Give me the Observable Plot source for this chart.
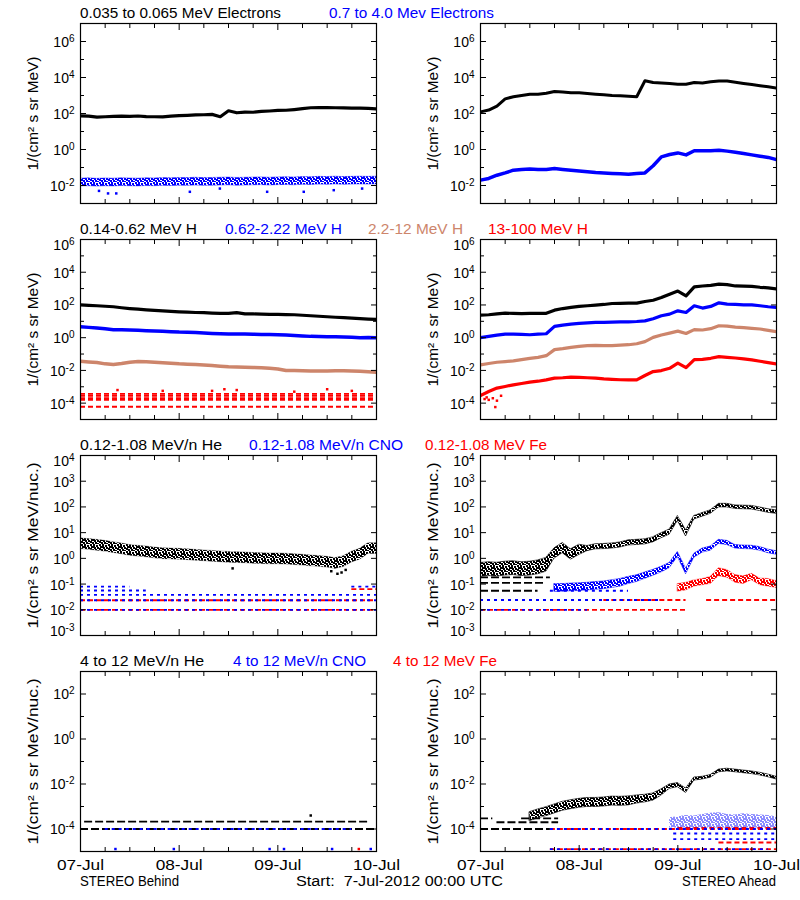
<!DOCTYPE html>
<html>
<head>
<meta charset="utf-8">
<script src="https://cdn.jsdelivr.net/npm/d3@7"></script>
<script src="https://cdn.jsdelivr.net/npm/@observablehq/plot@0.6"></script>
<style>
  html, body { margin: 0; padding: 0; background: #fff; }
  #root { position: relative; width: 800px; height: 900px; overflow: hidden; background: #fff; }
  #root > svg { position: absolute; }
</style>
</head>
<body>
<div id="root"></div>
<script>
// ---------------- DATA (log10 of flux) ----------------
// sample times, hours after 2012-07-07 00:00 UTC
const hours = [0,2,4,6,8,10,12,14,16,18,20,22,24,26,28,30,32,34,36,38,40,42,44,46,48,50,52,54,56,58,60,62,64,66,68,70,72];

// Row 1: electrons
const behindElecLow = [1.87,1.85,1.80,1.82,1.84,1.85,1.84,1.86,1.83,1.82,1.81,1.85,1.88,1.90,1.92,1.93,1.95,1.82,2.15,2.04,2.08,2.07,2.12,2.14,2.17,2.18,2.22,2.27,2.32,2.33,2.33,2.32,2.31,2.30,2.30,2.28,2.25];
const behindElecHighLo = [-2.05,-2.04,-2.06,-2.04,-2.05,-2.03,-2.04,-2.05,-2.03,-2.04,-2.02,-2.03,-2.01,-2.02,-2.00,-2.02,-2.01,-2.00,-1.99,-2.01,-2.00,-1.99,-1.98,-2.00,-1.98,-1.97,-1.99,-1.96,-1.97,-1.95,-1.96,-1.94,-1.96,-1.95,-1.94,-1.95,-1.94];
const behindElecHighHi = [-1.62,-1.60,-1.63,-1.61,-1.62,-1.60,-1.61,-1.62,-1.60,-1.61,-1.59,-1.60,-1.58,-1.59,-1.57,-1.59,-1.58,-1.57,-1.56,-1.58,-1.57,-1.56,-1.55,-1.57,-1.55,-1.54,-1.56,-1.53,-1.54,-1.52,-1.53,-1.51,-1.53,-1.52,-1.51,-1.52,-1.51];
const behindElecHighOutliers = [[4.5,-2.30],[6.7,-2.44],[8.7,-2.44],[26.6,-2.35],[33.9,-2.17],[45.4,-2.35],[54.3,-2.35],[61.6,-2.26],[68.5,-2.17]];
const aheadElecLow = [2.09,2.19,2.41,2.81,2.93,3.00,3.07,3.07,3.12,3.22,3.19,3.15,3.15,3.11,3.07,3.04,3.00,2.98,2.96,2.93,3.82,3.72,3.69,3.67,3.63,3.63,3.72,3.70,3.76,3.81,3.80,3.74,3.67,3.61,3.54,3.48,3.41];
const aheadElecHigh = [-1.70,-1.61,-1.43,-1.30,-1.15,-1.11,-1.09,-1.11,-1.11,-1.06,-1.11,-1.15,-1.19,-1.24,-1.28,-1.30,-1.33,-1.35,-1.37,-1.33,-1.30,-0.90,-0.41,-0.28,-0.19,-0.30,-0.07,-0.07,-0.07,-0.04,-0.09,-0.15,-0.22,-0.30,-0.37,-0.44,-0.56];

// Row 2: protons
const behindP1 = [2.00,1.97,1.95,1.92,1.89,1.83,1.78,1.74,1.70,1.67,1.64,1.61,1.58,1.56,1.54,1.53,1.50,1.48,1.49,1.53,1.46,1.45,1.44,1.43,1.42,1.41,1.40,1.37,1.34,1.31,1.28,1.25,1.22,1.19,1.16,1.14,1.12];
const behindP2 = [0.67,0.63,0.59,0.54,0.49,0.48,0.47,0.45,0.43,0.41,0.39,0.37,0.34,0.33,0.32,0.29,0.26,0.24,0.22,0.22,0.22,0.21,0.20,0.19,0.18,0.16,0.14,0.11,0.08,0.07,0.06,0.05,0.04,0.02,0.00,0.01,0.00];
const behindP3 = [-1.44,-1.48,-1.52,-1.60,-1.64,-1.58,-1.50,-1.46,-1.47,-1.50,-1.53,-1.56,-1.60,-1.62,-1.64,-1.67,-1.70,-1.74,-1.78,-1.79,-1.80,-1.82,-1.84,-1.87,-1.91,-2.01,-2.01,-2.02,-2.03,-2.03,-2.03,-2.02,-2.02,-2.04,-2.05,-2.08,-2.11];
// quantized count levels: [series, log10 flux, start hour, end hour]
const behindP4Levels = [["r",-3.43,0,72],["r",-3.55,0,72],["r",-3.69,0,72],["r",-3.80,0,72],["r",-4.22,0,72]];
const behindP4Spikes = [[9,-3.20],[20,-3.25],[32,-3.25],[35,-3.15],[38,-3.20],[52,-3.30],[60,-3.15],[66,-3.25]];
const aheadP1 = [1.38,1.40,1.46,1.50,1.48,1.47,1.48,1.48,1.49,1.68,1.78,1.85,1.91,1.95,1.99,2.03,2.09,2.10,2.11,2.11,2.21,2.29,2.45,2.66,2.85,2.56,3.10,3.16,3.20,3.27,3.24,3.16,3.15,3.14,3.08,3.04,2.98];
const aheadP2 = [0.00,0.08,0.16,0.22,0.22,0.20,0.18,0.22,0.24,0.69,0.77,0.83,0.87,0.90,0.93,0.93,0.95,0.97,0.97,0.99,1.03,1.16,1.34,1.44,1.64,1.54,1.95,1.81,1.91,2.13,2.05,2.03,2.01,2.01,1.95,1.89,1.85];
const aheadP3 = [-1.66,-1.58,-1.50,-1.46,-1.42,-1.34,-1.26,-1.20,-1.10,-0.73,-0.67,-0.59,-0.53,-0.49,-0.47,-0.49,-0.49,-0.45,-0.43,-0.37,-0.24,0.02,0.16,0.28,0.40,0.26,0.49,0.47,0.55,0.73,0.71,0.65,0.61,0.57,0.53,0.45,0.37];
const aheadP4 = [-3.53,-3.29,-3.08,-2.98,-2.88,-2.80,-2.72,-2.66,-2.58,-2.47,-2.45,-2.41,-2.43,-2.45,-2.47,-2.52,-2.55,-2.57,-2.58,-2.58,-2.31,-2.07,-2.01,-1.87,-1.55,-1.83,-1.34,-1.33,-1.26,-1.16,-1.20,-1.24,-1.30,-1.36,-1.44,-1.52,-1.60];
const aheadP4Early = [[1,-3.75],[1.5,-3.65],[2,-3.80],[3,-3.70],[3.6,-4.24],[4,-3.85],[5,-3.55]];

// Row 3: 0.12-1.08 MeV/n ions
const behindHeLo = [0.36,0.33,0.30,0.26,0.21,0.16,0.10,0.07,0.04,0.00,-0.03,-0.04,-0.05,-0.07,-0.09,-0.11,-0.13,-0.15,-0.17,-0.18,-0.19,-0.21,-0.22,-0.23,-0.23,-0.24,-0.26,-0.28,-0.31,-0.33,-0.36,-0.41,-0.34,-0.16,-0.05,0.17,0.17];
const behindHeHi = [0.78,0.75,0.72,0.68,0.63,0.58,0.52,0.49,0.46,0.42,0.39,0.38,0.37,0.35,0.33,0.31,0.29,0.27,0.25,0.24,0.23,0.21,0.20,0.19,0.19,0.18,0.16,0.14,0.11,0.09,0.06,0.01,0.08,0.26,0.37,0.59,0.59];
const behindHeOutliers = [[37,-0.39],[61,-0.50],[62.5,-0.60],[63.5,-0.55],[64.5,-0.45]];
const behindIonLevels = [["r",-2.00,0,72],["b",-2.00,0,72],["r",-1.63,0,72],["b",-1.63,0,72],["b",-1.42,0,72],["b",-1.25,0,16],["b",-1.10,0,12],["r",-1.20,66,72],["b",-1.10,66,72]];
const aheadHeLo = [-0.72,-0.69,-0.71,-0.67,-0.65,-0.69,-0.67,-0.62,-0.52,-0.01,0.20,-0.05,0.13,0.28,0.35,0.36,0.38,0.42,0.50,0.52,0.54,0.62,0.78,0.92,1.45,0.85,1.51,1.62,1.73,1.98,1.98,1.92,1.91,1.90,1.84,1.77,1.73];
const aheadHeHi = [-0.18,-0.15,-0.17,-0.13,-0.11,-0.15,-0.13,-0.08,0.02,0.39,0.60,0.35,0.53,0.48,0.55,0.56,0.58,0.62,0.70,0.72,0.74,0.82,0.98,1.12,1.65,1.09,1.65,1.76,1.87,2.12,2.12,2.06,2.05,2.04,1.98,1.91,1.87];
const aheadCNOLo = [null,null,null,null,null,null,null,null,null,-1.30,-1.30,-1.28,-1.27,-1.25,-1.22,-1.20,-1.15,-1.10,-1.00,-0.92,-0.80,-0.68,-0.55,-0.38,0.05,-0.62,0.02,0.22,0.30,0.56,0.52,0.38,0.36,0.35,0.30,0.20,0.14];
const aheadCNOHi = [null,null,null,null,null,null,null,null,null,-1.00,-1.00,-0.98,-0.97,-0.95,-0.92,-0.90,-0.85,-0.80,-0.72,-0.66,-0.55,-0.45,-0.33,-0.18,0.25,-0.40,0.18,0.38,0.46,0.72,0.68,0.52,0.50,0.49,0.44,0.34,0.28];
const aheadFeLo = [null,null,null,null,null,null,null,null,null,null,null,null,null,null,null,null,null,null,null,null,null,null,null,null,-1.30,-1.25,-1.10,-1.05,-1.00,-0.70,-0.75,-0.95,-1.00,-0.85,-1.05,-1.10,-1.15];
const aheadFeHi = [null,null,null,null,null,null,null,null,null,null,null,null,null,null,null,null,null,null,null,null,null,null,null,null,-1.00,-0.95,-0.85,-0.80,-0.72,-0.38,-0.45,-0.65,-0.70,-0.60,-0.78,-0.80,-0.88];
const aheadIonLevels = [["k",-0.74,0,17],["k",-0.95,0,16],["k",-1.26,0,14],["r",-2.00,0,50.5],["b",-2.00,0,26],["b",-1.62,0,44],["r",-1.62,30,50],["r",-1.62,55,72],["b",-1.26,17,36]];

// Row 4: 4-12 MeV/n ions
const behindHighIonLevels = [["k",-4.00,0,72],["k",-3.67,1,70],["b",-4.00,6,66]];
const behindHighHeDots = [[56,-3.40]];
const behindHighCNODots = [[8.5,-4.89],[22.7,-4.89],[46,-4.89],[49.5,-4.89],[61.2,-4.89],[70.6,-4.89]];
const behindHighFeDots = [[67.7,-4.89]];
const aheadHighHeLo = [null,null,null,null,null,null,-3.65,-3.53,-3.43,-3.31,-3.19,-3.12,-3.06,-3.02,-3.02,-3.00,-2.96,-2.97,-2.95,-2.87,-2.82,-2.74,-2.52,-2.22,-2.14,-2.40,-1.85,-1.80,-1.72,-1.48,-1.44,-1.48,-1.52,-1.56,-1.62,-1.70,-1.80];
const aheadHighHeHi = [null,null,null,null,null,null,-3.25,-3.13,-3.03,-2.91,-2.79,-2.72,-2.66,-2.62,-2.62,-2.60,-2.56,-2.57,-2.55,-2.51,-2.48,-2.42,-2.24,-2.02,-1.96,-2.20,-1.71,-1.68,-1.60,-1.36,-1.32,-1.36,-1.40,-1.44,-1.50,-1.58,-1.68];
const aheadHighCNOLo = [null,null,null,null,null,null,null,null,null,null,null,null,null,null,null,null,null,null,null,null,null,null,null,-3.95,-3.95,-3.95,-3.95,-3.95,-3.95,-3.95,-3.95,-3.95,-3.95,-3.95,-3.95,-3.95,-3.95];
const aheadHighCNOHi = [null,null,null,null,null,null,null,null,null,null,null,null,null,null,null,null,null,null,null,null,null,null,null,-3.50,-3.45,-3.40,-3.42,-3.35,-3.30,-3.28,-3.35,-3.38,-3.32,-3.35,-3.38,-3.40,-3.45];
const aheadHighIonLevels = [["k",-3.53,0,3],["k",-3.70,4,19],["k",-3.53,10,19],["k",-4.00,0,17],["r",-4.00,17,72],["b",-4.00,17,72],["r",-3.95,48,72],["b",-4.20,47,72],["b",-4.45,47,72],["r",-4.60,58,72],["r",-4.89,17,72],["b",-4.89,17,70]];

// axis ranges / tick labels (log10 exponents) and units
const rowExponents = [[-3, 7], [-5, 6], [-3, 4], [-5, 3]];
const rowTickLabels = [[-2, 0, 2, 4, 6], [-4, -2, 0, 2, 4, 6], [-3, -2, -1, 0, 1, 2, 3, 4], [-4, -2, 0, 2]];
const rowUnits = ["1/(cm² s sr MeV)", "1/(cm² s sr MeV)", "1/(cm² s sr MeV/nuc.)", "1/(cm² s sr MeV/nuc.)"];
const dayTickHours = [0, 24, 48, 72];
const minorTickHours = [6, 12, 18, 30, 36, 42, 54, 60, 66];
const rowTitles = [
  ["0.035 to 0.065 MeV Electrons", "0.7 to 4.0 Mev Electrons"],
  ["0.14-0.62 MeV H", "0.62-2.22 MeV H", "2.2-12 MeV H", "13-100 MeV H"],
  ["0.12-1.08 MeV/n He", "0.12-1.08 MeV/n CNO", "0.12-1.08 MeV Fe"],
  ["4 to 12 MeV/n He", "4 to 12 MeV/n CNO", "4 to 12 MeV Fe"]
];
const captions = ["STEREO Behind", "Start:  7-Jul-2012 00:00 UTC", "STEREO Ahead"];

// ---------------- STYLE / LAYOUT ----------------
const FONT = "'Liberation Sans', Arial, Helvetica, sans-serif";
const C = {k: "#000000", b: "#0000ff", s: "#cd856b", r: "#ff0000"};
const DASH = {k: "8,3", b: "3,4", r: "5,3", s: "6,2"};
const titleColors = [["k","b"],["k","b","s","r"],["k","b","r"],["k","b","r"]];
const titleX = [[80, 329], [80, 225, 368, 488], [80, 249, 425], [80, 233, 393]];
const titleW = [[201, 165], [117, 117, 95, 100], [142, 154, 122], [124, 133, 104]];
const unitW = [114, 114, 166, 166];
const captionX = [80, 296, 682], captionW = [99, 207, 94];
const ROW_TOP = [0, 216, 432, 648];
const MT = 23;

const T0 = Date.UTC(2012, 6, 7);
const toTime = h => new Date(T0 + h * 3600e3);
const flux = v => (v == null ? NaN : Math.pow(10, v));
const lineTable = vals => hours.map((h, i) => ({t: toTime(h), v: flux(vals[i])}));
const bandTable = (lo, hi) => hours.map((h, i) => ({t: toTime(h), lo: flux(lo[i]), hi: flux(hi[i])}));
const pointTable = pts => pts.map(([h, v]) => ({t: toTime(h), v: flux(v)}));

const root = document.getElementById("root");

// dotted fill patterns that imitate densely scattered data points
const defsSvg = d3.select(root).append("svg").attr("width", 0).attr("height", 0);
const defs = defsSvg.append("defs");
["k", "b", "r"].forEach(c => {
  const p = defs.append("pattern").attr("id", "dots-" + c)
    .attr("patternUnits", "userSpaceOnUse").attr("width", 9).attr("height", 7);
  [[0, 0], [3, 0], [6, 1], [1, 2], [4, 3], [7, 3], [2, 5], [5, 5], [0, 4], [8, 6], [6, 6], [3, 2]].forEach(([x, y]) =>
    p.append("rect").attr("x", x).attr("y", y).attr("width", 2).attr("height", 2).attr("fill", C[c]));
});

const lineMark = (vals, c, w = 3) => Plot.line(lineTable(vals), {x: "t", y: "v", stroke: C[c], strokeWidth: w, clip: true});
const bandMark = (lo, hi, c, op = 1, sop = 0.5) => Plot.areaY(bandTable(lo, hi), {x: "t", y1: "lo", y2: "hi",
  fill: `url(#dots-${c})`, fillOpacity: op, stroke: C[c], strokeOpacity: sop, strokeWidth: 1, clip: true});
const dotMark = (pts, c) => Plot.dot(pointTable(pts), {x: "t", y: "v", r: 1.4, symbol: "square", fill: C[c], stroke: null, clip: true});
const levelMarks = rows => ["r", "k", "b"].map(c => Plot.ruleY(
  rows.filter(d => d[0] === c).map(([, v, a, b]) => ({v: flux(v), t1: toTime(a), t2: toTime(b)})),
  {y: "v", x1: "t1", x2: "t2", stroke: C[c], strokeWidth: 1.8, strokeDasharray: DASH[c], clip: true}));

function panel(row, side, marks) {
  const [e0, e1] = rowExponents[row];
  const last = row === 3;
  const labelled = rowTickLabels[row];
  const major = labelled.map(e => Math.pow(10, e));
  const minor = d3.range(e0, e1 + 1).filter(e => !labelled.includes(e)).map(e => Math.pow(10, e));
  const days = dayTickHours.map(toTime);
  const quarter = minorTickHours.map(toTime);
  const noText = () => "";
  const common = {label: null, tickFormat: noText};
  const expFmt = d => "10^" + Math.round(Math.log10(d));
  const labelOpts = {anchor: "left", tickSize: 0, tickPadding: 6, label: null, fontSize: 14, tickFormat: expFmt};
  const inner = labelled.filter(e => e !== e0 && e !== e1).map(e => Math.pow(10, e));
  const topEdge = labelled.filter(e => e === e1).map(e => Math.pow(10, e));
  const botEdge = labelled.filter(e => e === e0).map(e => Math.pow(10, e));
  const axes = [
    Plot.axisY(major, {...common, anchor: "left", tickSize: 6, dx: 6}),
    Plot.axisY(minor, {...common, anchor: "left", tickSize: 4, dx: 4}),
    Plot.axisY(major, {...common, anchor: "right", tickSize: 6, dx: -6}),
    Plot.axisY(minor, {...common, anchor: "right", tickSize: 4, dx: -4}),
    Plot.axisX(days, {...common, anchor: "bottom", tickSize: 6, dy: -6}),
    Plot.axisX(quarter, {...common, anchor: "bottom", tickSize: 4, dy: -4}),
    Plot.axisX(days, {...common, anchor: "top", tickSize: 6, dy: 6}),
    Plot.axisX(quarter, {...common, anchor: "top", tickSize: 4, dy: 4}),
    Plot.axisY(inner, {...labelOpts, dy: 1}),
    Plot.axisY(topEdge, {...labelOpts, dy: 6}),
    Plot.axisY(botEdge, {...labelOpts, dy: -4}),
    Plot.text([rowUnits[row]], {text: d => d, frameAnchor: "left", dx: -47, rotate: -90,
      textAnchor: "middle", lineAnchor: "middle", fontSize: 14, fill: "black"})
  ];
  if (last) axes.push(Plot.axisX(days, {anchor: "bottom", tickSize: 0, tickPadding: 8, label: null, fontSize: 15,
    tickFormat: d3.utcFormat("%d-%b")}));
  const svg = Plot.plot({
    width: 400,
    height: last ? 252 : 216,
    marginLeft: 80, marginRight: 24, marginTop: MT, marginBottom: last ? 49 : 13,
    style: {background: "transparent", fontFamily: FONT, fontSize: "14px", color: "black", overflow: "visible"},
    x: {type: "utc", domain: [toTime(0), toTime(72)]},
    y: {type: "log", domain: [Math.pow(10, e0), Math.pow(10, e1)]},
    marks: [...marks, Plot.frame({stroke: "black", strokeWidth: 1.2}), ...axes]
  });
  svg.style.left = (side === 0 ? 0 : 400) + "px";
  svg.style.top = ROW_TOP[row] + "px";
  svg.style.position = "absolute";
  svg.querySelectorAll("text").forEach(t => {
    const s = t.textContent;
    const m = s.match(/^10\^(-?\d+)$/);
    if (m) { // superscript exponent
      t.textContent = "10";
      const ts = document.createElementNS("http://www.w3.org/2000/svg", "tspan");
      ts.setAttribute("dy", "-5");
      ts.setAttribute("font-size", "10px");
      ts.textContent = m[1];
      t.appendChild(ts);
    } else if (/^\d\d-[A-Z][a-z]{2}$/.test(s)) {
      t.setAttribute("textLength", 47);
      t.setAttribute("lengthAdjust", "spacingAndGlyphs");
    } else if (s === rowUnits[row]) {
      t.setAttribute("textLength", unitW[row]);
      t.setAttribute("lengthAdjust", "spacingAndGlyphs");
    }
  });
  root.appendChild(svg);
}

// Row 1
panel(0, 0, [
  bandMark(behindElecHighLo, behindElecHighHi, "b", 1, 0.4),
  dotMark(behindElecHighOutliers, "b"),
  lineMark(behindElecLow, "k", 3.2)
]);
panel(0, 1, [
  lineMark(aheadElecHigh, "b", 3.5),
  lineMark(aheadElecLow, "k", 3)
]);
// Row 2
panel(1, 0, [
  ...levelMarks(behindP4Levels),
  dotMark(behindP4Spikes, "r"),
  lineMark(behindP3, "s", 3.5),
  lineMark(behindP2, "b", 3.5),
  lineMark(behindP1, "k", 3.2)
]);
panel(1, 1, [
  dotMark(aheadP4Early, "r"),
  lineMark(aheadP4, "r", 3.2),
  lineMark(aheadP3, "s", 3.2),
  lineMark(aheadP2, "b", 3.2),
  lineMark(aheadP1, "k", 3.2)
]);
// Row 3
panel(2, 0, [
  ...levelMarks(behindIonLevels),
  bandMark(behindHeLo, behindHeHi, "k", 1, 0.25),
  dotMark(behindHeOutliers, "k")
]);
panel(2, 1, [
  ...levelMarks(aheadIonLevels),
  bandMark(aheadFeLo, aheadFeHi, "r", 1, 0.3),
  bandMark(aheadCNOLo, aheadCNOHi, "b", 1, 0.5),
  bandMark(aheadHeLo, aheadHeHi, "k", 1, 0.6)
]);
// Row 4
panel(3, 0, [
  ...levelMarks(behindHighIonLevels),
  dotMark(behindHighHeDots, "k"),
  dotMark(behindHighCNODots, "b"),
  dotMark(behindHighFeDots, "r")
]);
panel(3, 1, [
  ...levelMarks(aheadHighIonLevels),
  bandMark(aheadHighCNOLo, aheadHighCNOHi, "b", 0.45, 0),
  bandMark(aheadHighHeLo, aheadHighHeHi, "k", 1, 0.6)
]);

// Titles and captions
const overlay = d3.select(root).append("svg")
  .attr("width", 800).attr("height", 900)
  .style("left", "0px").style("top", "0px").style("pointer-events", "none")
  .attr("font-family", FONT).attr("font-size", 14);
rowTitles.forEach((names, r) => names.forEach((name, i) => {
  overlay.append("text").attr("x", titleX[r][i]).attr("y", ROW_TOP[r] + MT - 5)
    .attr("textLength", titleW[r][i]).attr("lengthAdjust", "spacingAndGlyphs")
    .attr("fill", C[titleColors[r][i]]).text(name);
}));
captions.forEach((cap, i) => {
  overlay.append("text").attr("x", captionX[i]).attr("y", 886)
    .attr("textLength", captionW[i]).attr("lengthAdjust", "spacingAndGlyphs")
    .style("white-space", "pre").text(cap);
});
</script>
</body>
</html>
